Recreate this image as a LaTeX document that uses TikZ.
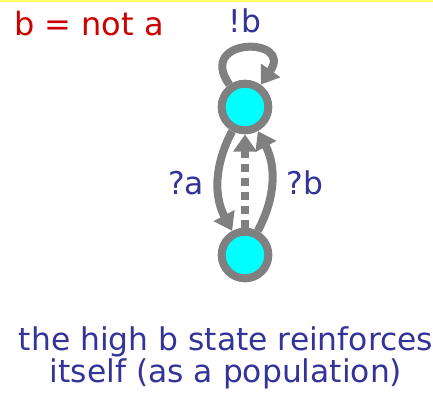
\documentclass[tikz,border=0pt]{standalone}
\usepackage{fontspec}
\setmainfont{DejaVu Sans}
\usetikzlibrary{arrows.meta}
\definecolor{statecyan}{HTML}{00FFFF}
\definecolor{edgegray}{HTML}{808080}
\definecolor{lblblue}{HTML}{333399}
\definecolor{notered}{HTML}{CC0000}
\definecolor{topyellow}{HTML}{FFFF66}

\begin{document}
\begin{tikzpicture}[x=0.75pt, y=-0.75pt,
      state/.style={circle, draw=edgegray, fill=statecyan, line width=6pt, minimum size=35pt, inner sep=0pt},
      arr/.style={-{Triangle[length=13pt, width=17pt]}, edgegray, line width=6pt},
      lbl/.style={text=lblblue, font=\fontsize{23.5}{24}\selectfont},
      note/.style={text=notered, font=\fontsize{24}{28}\selectfont}]
    \useasboundingbox[fill=white] (0,0) rectangle (433,393);
    \fill[topyellow] (0,0) rectangle (433,2);
    \node[note] (rule) at (89,24) {b = not a};
    \node[state] (hi) at (245,107) {};
    \node[state] (lo) at (245,255) {};
    \draw[arr] (hi) to[out=125, in=55, looseness=4.8] (hi);
    \draw[arr] (hi) to[bend right=28] (lo);
    \draw[arr] (lo) to[bend right=28] (hi);
    \draw[arr, dash pattern=on 6pt off 4.5pt] (lo) -- (hi);
    \node[lbl] (selfb) at (245,21) {!b};
    \node[lbl] (qa) at (186,183) {?a};
    \node[lbl] (qb) at (305,183) {?b};
    \node[lbl, align=center] (caption) at (226,358) {the high b state reinforces\\itself (as a population)};
  \end{tikzpicture}
\end{document}
